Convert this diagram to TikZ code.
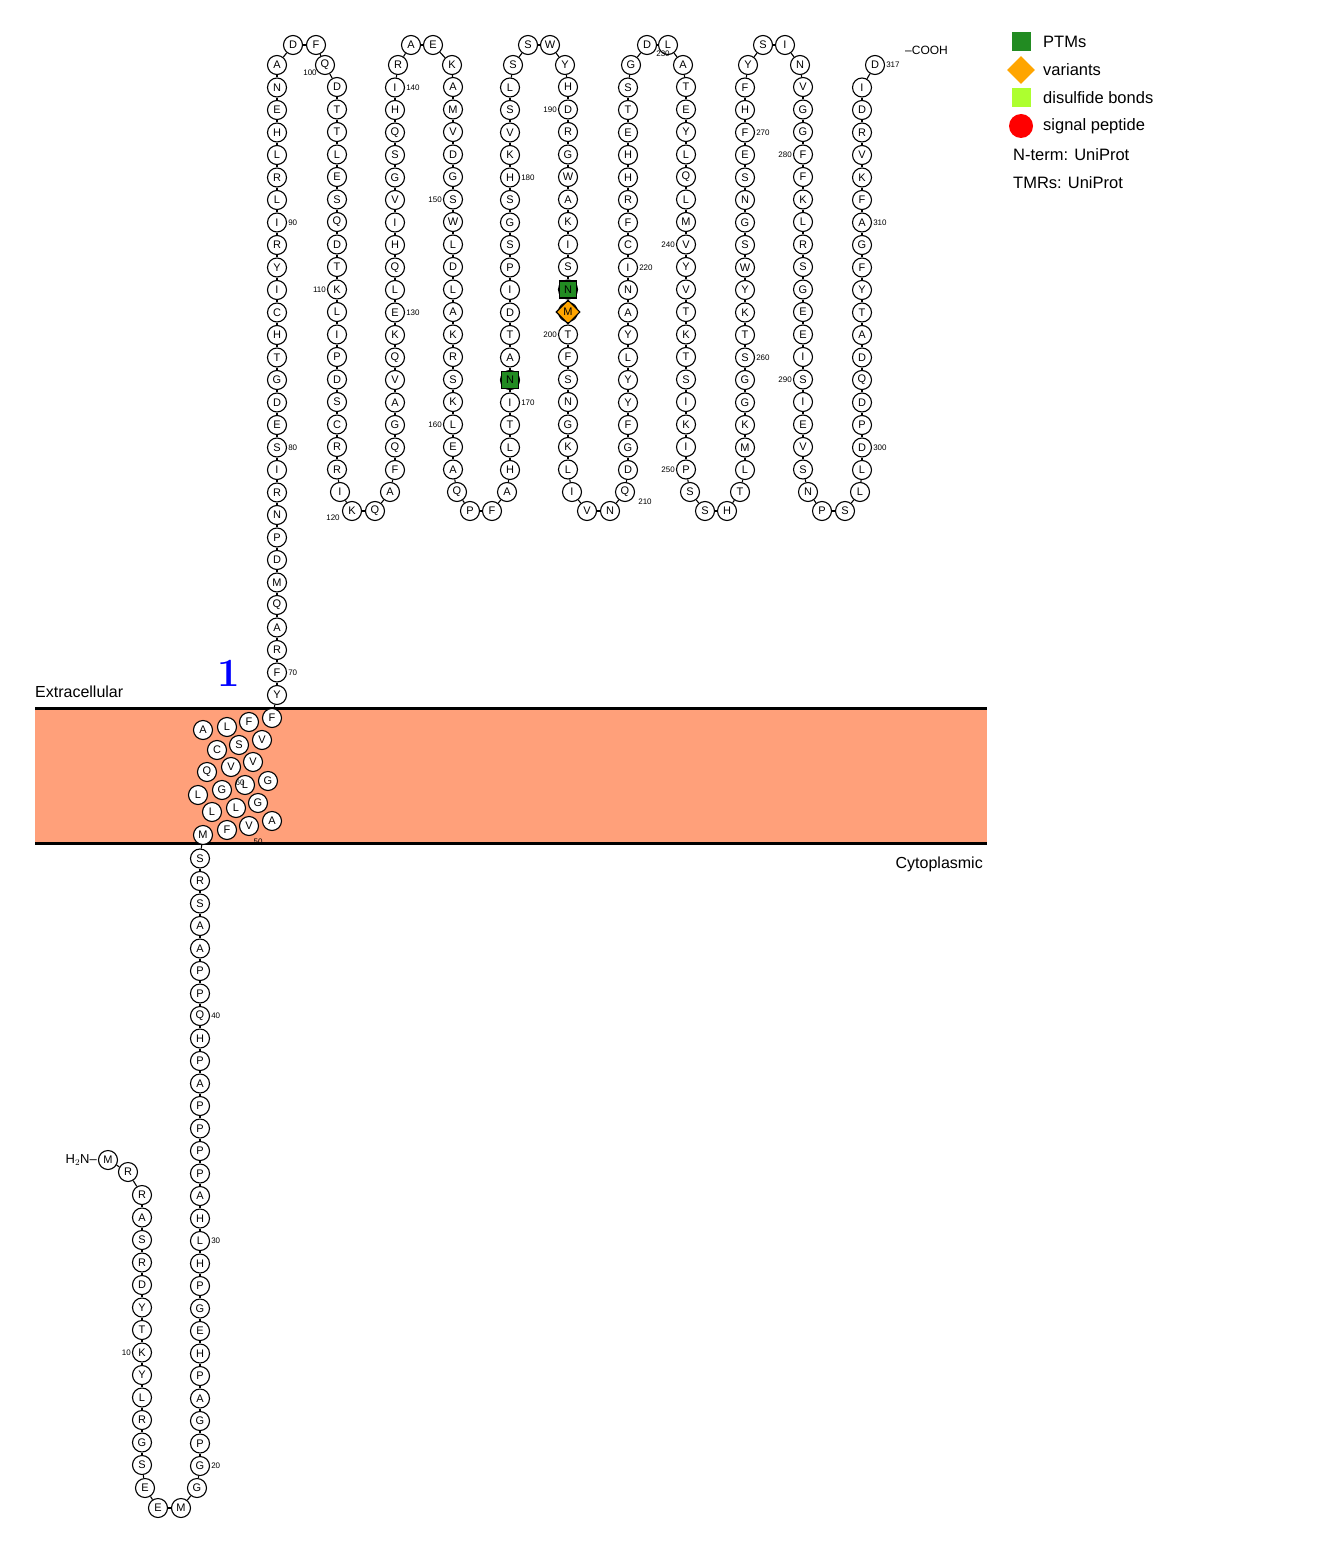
\documentclass[tikz,border=0pt]{standalone}
\usepackage{fontspec}
\setmainfont{Liberation Sans}
\newfontfamily\lmfont{Latin Modern Roman}
\usepackage{tikz}
\usetikzlibrary{shapes.geometric}

\definecolor{membrane}{RGB}{255,160,122}
\definecolor{ptm}{RGB}{34,139,34}
\definecolor{variant}{RGB}{255,165,0}
\definecolor{disulf}{RGB}{173,255,47}

\tikzset{
  res/.style={circle,draw,line width=1.1pt,fill=white,minimum size=19pt,inner sep=0pt,font=\fontsize{11}{11}\selectfont},
  ptmres/.style={res,rectangle,fill=ptm,minimum size=17pt},
  varres/.style={res,diamond,fill=variant,minimum size=24pt},
  num/.style={inner sep=1pt,font=\fontsize{8}{8}\selectfont},
  legend/.style={anchor=west,inner sep=0pt,font=\fontsize{16.5}{16.5}\selectfont}
}
% column of residues, #1 x, #2 first y, #3 step, #4 first number, #5 letters
\newcommand\rescol[5]{%
  \foreach \a [count=\k from 0] in {#5} {%
    \pgfmathtruncatemacro\n{#4+\k}%
    \node[res] (r\n) at (#1,#2+#3*\k) {\a};}}

\begin{document}
\begin{tikzpicture}[x=1pt,y=-1pt]
\useasboundingbox (0,0) rectangle (1318,1554);

%membrane
\fill[membrane] (35,708) rectangle (987,843);
\draw[line width=3pt] (35,708) -- (987,708) (35,843) -- (987,843);
\node[anchor=south west,inner sep=0pt,font=\fontsize{16}{16}\selectfont] (extra) at (35,698) {Extracellular};
\node[anchor=north east,inner sep=0pt,font=\fontsize{16}{16}\selectfont] (cyto) at (983,857) {Cytoplasmic};
\node[text=blue,font=\fontsize{40}{40}\selectfont\lmfont\bfseries] (tm1) at (229,673) {1};

%N-terminal tail
\node[res] (r1) at (108,1160) {M};
\node[res] (r2) at (128,1172) {R};
\rescol{142}{1195}{22.5}{3}{R,A,S,R,D,Y,T,K,Y,L,R,G,S}
\node[res] (r16) at (145,1488) {E};
\node[res] (r17) at (158,1508) {E};
\node[res] (r18) at (181,1508) {M};
\node[res] (r19) at (197,1488) {G};
\rescol{200}{1466}{-22.5}{20}{G,P,G,A,P,H,E,G,P,H,L,H,A,P,P,P,P,A,P,H,Q,P,P,A,A,S,R,S}

%helix
\foreach \p/\x/\y/\a in {48/203/835/M,49/227/830/F,50/249/826/V,51/272/821/A,52/258/803/G,
  53/236/808/L,54/212/812/L,55/198/795/L,56/222/790/G,57/245/785/L,58/268/781/G,
  59/253/762/V,60/231/767/V,61/207/772/Q,62/217/750/C,63/239/745/S,64/262/740/V,
  65/203/730/A,66/227/727/L,67/249/722/F,68/272/718/F}
  \node[res] (r\p) at (\x,\y) {\a};

%extracellular loops
\rescol{277}{695}{-22.5}{69}{Y,F,R,A,Q,M,D,P,N,R,I,S,E,D,G,T,H,C,I,Y,R,I,L,R,L,H,E,N,A}
\node[res] (r98) at (293,45) {D};
\node[res] (r99) at (316,45) {F};
\node[res] (r100) at (325,65) {Q};
\rescol{337}{87}{22.5}{101}{D,T,T,L,E,S,Q,D,T,K,L,I,P,D,S,C,R,R}
\node[res] (r119) at (340,492) {I};
\node[res] (r120) at (352,511) {K};
\node[res] (r121) at (375,511) {Q};
\node[res] (r122) at (390,492) {A};
\rescol{395}{470}{-22.5}{123}{F,Q,G,A,V,Q,K,E,L,Q,H,I,V,G,S,Q,H,I}
\node[res] (r141) at (398,65) {R};
\node[res] (r142) at (411,45) {A};
\node[res] (r143) at (433,45) {E};
\node[res] (r144) at (452,65) {K};
\rescol{453}{87}{22.5}{145}{A,M,V,D,G,S,W,L,D,L,A,K,R,S,K,L,E,A}
\node[res] (r163) at (457,492) {Q};
\node[res] (r164) at (470,511) {P};
\node[res] (r165) at (492,511) {F};
\node[res] (r166) at (507,492) {A};
\rescol{510}{470}{-22.5}{167}{H,L,T,I,N,A,T,D,I,P,S,G,S,H,K,V,S,L}
\node[res] (r185) at (513,65) {S};
\node[res] (r186) at (528,45) {S};
\node[res] (r187) at (550,45) {W};
\node[res] (r188) at (565,65) {Y};
\rescol{568}{87}{22.5}{189}{H,D,R,G,W,A,K,I,S,N,M,T,F,S,N,G,K,L}
\node[res] (r207) at (572,492) {I};
\node[res] (r208) at (587,511) {V};
\node[res] (r209) at (610,511) {N};
\node[res] (r210) at (625,492) {Q};
\rescol{628}{470}{-22.5}{211}{D,G,F,Y,Y,L,Y,A,N,I,C,F,R,H,H,E,T,S}
\node[res] (r229) at (631,65) {G};
\node[res] (r230) at (647,45) {D};
\node[res] (r231) at (668,45) {L};
\node[res] (r232) at (683,65) {A};
\rescol{686}{87}{22.5}{233}{T,E,Y,L,Q,L,M,V,Y,V,T,K,T,S,I,K,I,P}
\node[res] (r251) at (690,492) {S};
\node[res] (r252) at (705,511) {S};
\node[res] (r253) at (727,511) {H};
\node[res] (r254) at (740,492) {T};
\rescol{745}{470}{-22.5}{255}{L,M,K,G,G,S,T,K,Y,W,S,G,N,S,E,F,H,F}
\node[res] (r273) at (748,65) {Y};
\node[res] (r274) at (763,45) {S};
\node[res] (r275) at (785,45) {I};
\node[res] (r276) at (800,65) {N};
\rescol{803}{87}{22.5}{277}{V,G,G,F,F,K,L,R,S,G,E,E,I,S,I,E,V,S}
\node[res] (r295) at (808,492) {N};
\node[res] (r296) at (822,511) {P};
\node[res] (r297) at (845,511) {S};
\node[res] (r298) at (860,492) {L};
\rescol{862}{470}{-22.5}{299}{L,D,P,D,Q,D,A,T,Y,F,G,A,F,K,V,R,D,I}
\node[res] (r317) at (875,65) {D};

%marked residues
\node[ptmres] (m171) at (r171) {N};
\node[ptmres] (m198) at (r198) {N};
\node[varres] (m199) at (r199) {M};

%backbone
\foreach \i [remember=\i as \j (initially 1)] in {2,...,48}
  \draw[line width=1.1pt] (r\j) -- (r\i);
\foreach \i [remember=\i as \j (initially 68)] in {69,...,317}
  \draw[line width=1.1pt] (r\j) -- (r\i);

%termini
\node[anchor=east,inner sep=1pt,font=\fontsize{13}{13}\selectfont] (nterm) at (r1.west) {H$_2$N–};
\node[anchor=west,inner sep=1pt,font=\fontsize{12}{12}\selectfont] (cterm) at (904,50) {–COOH};

%numbers
\foreach \n in {20,30,40,70,80,90,130,140,170,180,220,260,270,300,310,317}
  \node[num,anchor=west] (l\n) at (r\n.east) {\n};
\foreach \n in {10,110,150,160,190,200,240,250,280,290}
  \node[num,anchor=east] (l\n) at (r\n.west) {\n};
\node[num] (l50) at (258,842) {50};
\node[num] (l60) at (240,783) {60};
\node[num] (l100) at (310,73) {100};
\node[num] (l120) at (333,518) {120};
\node[num] (l210) at (645,502) {210};
\node[num] (l230) at (663,54) {230};

%legend
\node[rectangle,fill=ptm,minimum size=19pt,inner sep=0pt] (k1) at (1021,42) {};
\node[legend] (t1) at (1043,42) {PTMs};
\node[diamond,fill=variant,minimum size=28pt,inner sep=0pt] (k2) at (1021,70) {};
\node[legend] (t2) at (1043,70) {variants};
\node[rectangle,fill=disulf,minimum size=19pt,inner sep=0pt] (k3) at (1021,98) {};
\node[legend] (t3) at (1043,98) {disulfide bonds};
\node[circle,fill=red,minimum size=24pt,inner sep=0pt] (k4) at (1021,126) {};
\node[legend] (t4) at (1043,126) {signal peptide};
\node[legend] (t5) at (1013,155) {N-term: UniProt};
\node[legend] (t6) at (1013,183) {TMRs: UniProt};
\end{tikzpicture}
\end{document}
